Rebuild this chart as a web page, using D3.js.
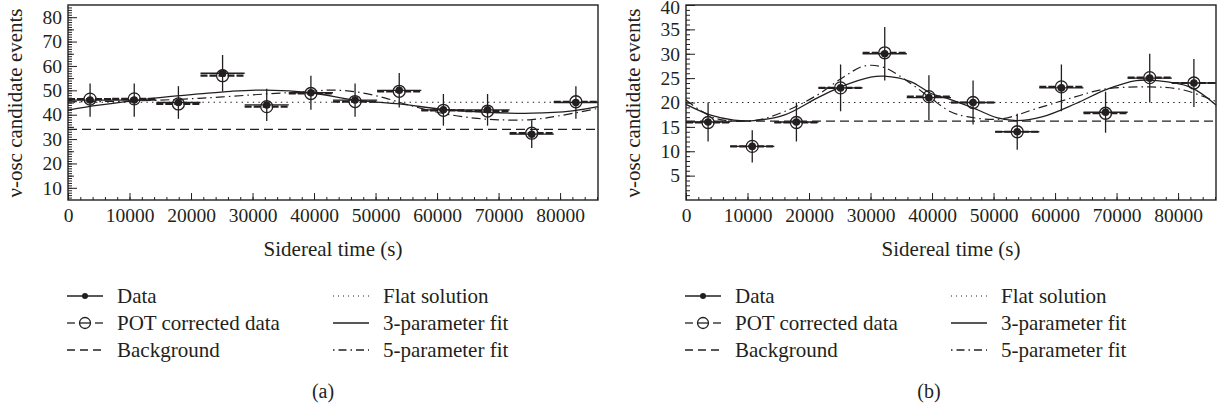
<!DOCTYPE html>
<html>
<head>
<meta charset="utf-8">
<script src="https://cdn.jsdelivr.net/npm/d3@7"></script>
<style>
  body { margin: 0; background: #fff; }
  text { font-family: "Liberation Serif", "Times New Roman", serif; fill: #231f20; }
  .axis path { display: none; }
  .axis line { stroke: #231f20; stroke-width: 1; }
</style>
</head>
<body>
<svg id="chart" width="1223" height="408"></svg>
<script>
// bins of the sidereal day
var timeBins = [3590, 10770, 17950, 25130, 32310, 39490, 46670, 53850, 61030, 68210, 75390, 82570];
var binHalf = 3590;
var xTicks = [0, 10000, 20000, 30000, 40000, 50000, 60000, 70000, 80000];

// panel (a)
var dataA = [46, 46, 45, 57, 44, 49, 46, 50, 42, 42, 32, 45];
var errA = [6.8, 6.8, 6.7, 7.5, 6.6, 7.0, 6.8, 7.1, 6.5, 6.5, 5.7, 6.7];
var potA = [46.4, 46.5, 44.4, 56.0, 43.3, 48.7, 45.4, 49.6, 41.8, 41.5, 32.4, 45.3];
var flatA = 45.1, bgA = 34.0;
var fit3A_t = [0, 5000, 10500, 16000, 21300, 26500, 32200, 39500, 46700, 53900, 61000, 68000, 75500, 82000, 86164];
var fit3A = [41.9, 43.9, 45.7, 47.3, 48.5, 49.6, 50.1, 49.0, 46.0, 44.4, 42.2, 41.0, 40.6, 41.6, 43.3];
var fit5A_t = [0, 10500, 21300, 32200, 39500, 43000, 47000, 51600, 55600, 61000, 66000, 70000, 75400, 80000, 86164];
var fit5A = [45.3, 45.6, 46.7, 48.5, 49.6, 50.1, 49.3, 46.8, 43.8, 40.5, 38.6, 37.9, 38.0, 39.6, 42.6];
var yTicksA = [10, 20, 30, 40, 50, 60, 70, 80];

// panel (b)
var dataB = [16, 11, 16, 23, 30, 21, 20, 14, 23, 18, 25, 24];
var errB = [4.0, 3.3, 4.0, 4.8, 5.5, 4.6, 4.5, 3.7, 4.8, 4.2, 5.0, 4.9];
var potB = [15.9, 11.0, 15.9, 23.0, 30.2, 21.2, 20.0, 14.0, 23.2, 17.8, 25.1, 24.0];
var flatB = 20.0, bgB = 16.2;
var fit3B_t = [0, 4015, 7800, 11050, 15930, 21300, 25150, 30030, 32190, 36530, 39780, 43030, 46660, 50500, 53700, 58000, 63400, 68400, 73200, 76500, 81900, 86164];
var fit3B = [19.6, 17.4, 16.4, 16.3, 17.4, 20.9, 23.2, 25.2, 25.4, 24.3, 21.9, 20.6, 18.9, 16.9, 16.3, 17.1, 19.8, 22.7, 24.5, 24.5, 23.2, 19.5];
var fit5B_t = [0, 4700, 11050, 15930, 21300, 25700, 29000, 32190, 36530, 39780, 43030, 45700, 51100, 57100, 63400, 67800, 75400, 80800, 86164];
var fit5B = [20.5, 16.8, 16.3, 18.1, 21.5, 25.3, 27.5, 27.2, 23.9, 20.9, 18.1, 17.1, 16.6, 18.8, 21.2, 22.7, 23.2, 22.6, 20.2];
var yTicksB = [5, 10, 15, 20, 25, 30, 35, 40];

var svg = d3.select("#chart");
var ink = "#231f20";

function panel(o) {
  var x = d3.scaleLinear().domain([0, 86164]).range([o.left, o.left + 530]);
  var y = d3.scaleLinear().domain(o.yDomain).range([200, 5]);
  var g = svg.append("g");

  // minor ticks
  g.append("g").attr("class", "axis").attr("transform", "translate(0,200)")
    .call(d3.axisBottom(x).tickValues(d3.range(0, 86165, 2000)).tickSize(-3).tickFormat(""));
  g.append("g").attr("class", "axis").attr("transform", "translate(0,200)")
    .call(d3.axisBottom(x).tickValues(xTicks).tickSize(-7).tickPadding(8).tickFormat(d3.format("d")))
    .selectAll("text").style("font-size", "19.5px").attr("fill", ink);
  g.append("g").attr("class", "axis").attr("transform", "translate(" + o.left + ",0)")
    .call(d3.axisLeft(y).tickValues(d3.range(o.yDomain[0] + 1, o.yDomain[1], 1)).tickSize(-4).tickFormat(""));
  if (o.midTicks) {
    g.append("g").attr("class", "axis").attr("transform", "translate(" + o.left + ",0)")
      .call(d3.axisLeft(y).tickValues(o.midTicks).tickSize(-6).tickFormat(""));
  }
  var yl = g.append("g").attr("class", "axis").attr("transform", "translate(" + o.left + ",0)")
    .call(d3.axisLeft(y).tickValues(o.yTicks).tickSize(-9).tickPadding(6));
  yl.selectAll("text").style("font-size", "19.5px").attr("fill", ink)
    .attr("dy", function (d) { return d === o.yDomain[1] ? "0.45em" : "0.32em"; });

  // frame
  g.append("rect").attr("x", o.left).attr("y", 5).attr("width", 530).attr("height", 195)
    .attr("fill", "none").attr("stroke", ink).attr("stroke-width", 1.4);

  // flat and background
  g.append("line").attr("x1", x(0)).attr("x2", x(86164)).attr("y1", y(o.flat)).attr("y2", y(o.flat))
    .attr("stroke", ink).attr("stroke-width", 1.2).attr("stroke-dasharray", "1.4,4.2");
  g.append("line").attr("x1", x(0)).attr("x2", x(86164)).attr("y1", y(o.bg)).attr("y2", y(o.bg))
    .attr("stroke", ink).attr("stroke-width", 1.2).attr("stroke-dasharray", "9,5");

  var line = d3.line().x(function (d) { return x(d[0]); }).y(function (d) { return y(d[1]); })
    .curve(d3.curveCatmullRom.alpha(0.5));
  g.append("path").attr("d", line(d3.zip(o.fit3t, o.fit3))).attr("fill", "none")
    .attr("stroke", ink).attr("stroke-width", 1.3);
  g.append("path").attr("d", line(d3.zip(o.fit5t, o.fit5))).attr("fill", "none")
    .attr("stroke", ink).attr("stroke-width", 1.2).attr("stroke-dasharray", "9,4,1.5,4");

  // points
  var pts = g.selectAll(".pt").data(timeBins.map(function (t, i) {
    return { t: t, v: o.data[i], e: o.err[i], p: o.pot[i] };
  })).enter().append("g");
  pts.append("line").attr("x1", function (d) { return x(d.t - binHalf); })
    .attr("x2", function (d) { return x(d.t + binHalf); })
    .attr("y1", function (d) { return y(d.p); }).attr("y2", function (d) { return y(d.p); })
    .attr("stroke", ink).attr("stroke-width", 2.2).attr("stroke-dasharray", "7,2");
  pts.append("line").attr("x1", function (d) { return x(d.t - binHalf); })
    .attr("x2", function (d) { return x(d.t + binHalf); })
    .attr("y1", function (d) { return y(d.v); }).attr("y2", function (d) { return y(d.v); })
    .attr("stroke", ink).attr("stroke-width", 1.3);
  pts.append("line").attr("x1", function (d) { return x(d.t); }).attr("x2", function (d) { return x(d.t); })
    .attr("y1", function (d) { return y(d.v - d.e); }).attr("y2", function (d) { return y(d.v + d.e); })
    .attr("stroke", ink).attr("stroke-width", 1.3);
  pts.append("circle").attr("cx", function (d) { return x(d.t); }).attr("cy", function (d) { return y(d.p); })
    .attr("r", 6).attr("fill", "none").attr("stroke", ink).attr("stroke-width", 1.3);
  pts.append("circle").attr("cx", function (d) { return x(d.t); }).attr("cy", function (d) { return y(d.v); })
    .attr("r", 3.8).attr("fill", ink);

  // axis titles
  g.append("text").attr("transform", "translate(" + (o.left - 46) + ",103) rotate(-90)")
    .attr("text-anchor", "middle").style("font-size", "21px").text("\u03bd-osc candidate events");
  g.append("text").attr("x", o.left + 265).attr("y", 256).attr("text-anchor", "middle")
    .style("font-size", "21px").text("Sidereal time (s)");

  // legend
  var lx = o.left - 1, rx = o.left + 265;
  var rows = [296, 323, 350];
  var lg = g.append("g").attr("stroke", ink).attr("fill", "none").attr("stroke-width", 1.3);
  lg.append("line").attr("x1", lx).attr("x2", lx + 36).attr("y1", rows[0]).attr("y2", rows[0]);
  lg.append("circle").attr("cx", lx + 18).attr("cy", rows[0]).attr("r", 3).attr("fill", ink).attr("stroke", "none");
  lg.append("line").attr("x1", lx).attr("x2", lx + 8).attr("y1", rows[1]).attr("y2", rows[1]);
  lg.append("line").attr("x1", lx + 12).attr("x2", lx + 24).attr("y1", rows[1]).attr("y2", rows[1]);
  lg.append("line").attr("x1", lx + 28).attr("x2", lx + 36).attr("y1", rows[1]).attr("y2", rows[1]);
  lg.append("circle").attr("cx", lx + 18).attr("cy", rows[1]).attr("r", 5.5);
  lg.append("line").attr("x1", lx).attr("x2", lx + 36).attr("y1", rows[2]).attr("y2", rows[2])
    .attr("stroke-dasharray", "8,5");
  lg.append("line").attr("x1", rx).attr("x2", rx + 36).attr("y1", rows[0]).attr("y2", rows[0])
    .attr("stroke-width", 1).attr("stroke-dasharray", "1,4");
  lg.append("line").attr("x1", rx).attr("x2", rx + 36).attr("y1", rows[1]).attr("y2", rows[1]);
  lg.append("line").attr("x1", rx).attr("x2", rx + 36).attr("y1", rows[2]).attr("y2", rows[2])
    .attr("stroke-dasharray", "1.5,4,8,4");
  var labL = ["Data", "POT corrected data", "Background"];
  var labR = ["Flat solution", "3-parameter fit", "5-parameter fit"];
  labL.forEach(function (s, i) {
    g.append("text").attr("x", lx + 50).attr("y", rows[i] + 6.5).style("font-size", "21px").text(s);
  });
  labR.forEach(function (s, i) {
    g.append("text").attr("x", rx + 50).attr("y", rows[i] + 6.5).style("font-size", "21px").text(s);
  });
  g.append("text").attr("x", o.cap).attr("y", 398).attr("text-anchor", "middle")
    .style("font-size", "20px").text(o.label);
}

panel({ left: 68, yDomain: [5, 85], yTicks: yTicksA, midTicks: [15, 25, 35, 45, 55, 65, 75],
  data: dataA, err: errA, pot: potA, flat: flatA, bg: bgA,
  fit3t: fit3A_t, fit3: fit3A, fit5t: fit5A_t, fit5: fit5A, label: "(a)", cap: 323 });
panel({ left: 686, yDomain: [0, 40], yTicks: yTicksB, midTicks: null,
  data: dataB, err: errB, pot: potB, flat: flatB, bg: bgB,
  fit3t: fit3B_t, fit3: fit3B, fit5t: fit5B_t, fit5: fit5B, label: "(b)", cap: 929 });
</script>
</body>
</html>
